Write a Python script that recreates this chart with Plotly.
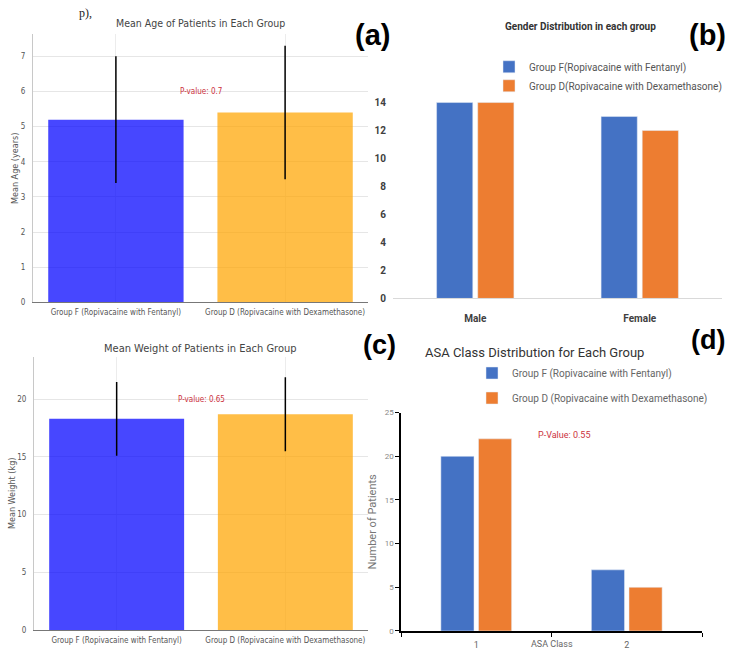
import plotly.graph_objects as go

W, H = 729, 655

# ---- data ----
groups = ["Group F (Ropivacaine with Fentanyl)", "Group D (Ropivacaine with Dexamethasone)"]
age_mean = [5.2, 5.4]
age_sd = [1.8, 1.9]
age_p = 0.7

weight_mean = [18.3, 18.7]
weight_sd = [3.2, 3.2]
weight_p = 0.65

sexes = ["Male", "Female"]
gender_f = [14, 13]
gender_d = [14, 12]
gender_names = ["Group F(Ropivacaine with Fentanyl)", "Group D(Ropivacaine with Dexamethasone)"]

asa_classes = ["1", "2"]
asa_f = [20, 7]
asa_d = [22, 5]
asa_names = ["Group F (Ropivacaine with Fentanyl)", "Group D (Ropivacaine with Dexamethasone)"]
asa_p = 0.55

# ---- styling ----
MPL_BLUE = "rgba(0,0,255,0.72)"
MPL_ORANGE = "rgba(255,165,0,0.72)"
XL_BLUE = "#4472C4"
XL_ORANGE = "#ED7D31"
MPL_FONT = "DejaVu Sans Condensed, DejaVu Sans"
XL_FONT = "Roboto, Liberation Sans"
PRED = "#cc3340"


def px(x):
    return x / W


def py(y):
    return 1 - y / H


fig = go.Figure()

# (a) mean age
fig.add_trace(go.Bar(
    x=groups, y=age_mean, width=0.8,
    marker=dict(color=[MPL_BLUE, MPL_ORANGE], line=dict(width=0)),
    error_y=dict(type="data", array=age_sd, color="black", thickness=1.5, width=0),
    xaxis="x", yaxis="y", showlegend=False,
))

# (b) gender distribution
fig.add_trace(go.Bar(x=sexes, y=gender_f, name=gender_names[0], marker_color=XL_BLUE,
                     xaxis="x2", yaxis="y2", legend="legend"))
fig.add_trace(go.Bar(x=sexes, y=gender_d, name=gender_names[1], marker_color=XL_ORANGE,
                     xaxis="x2", yaxis="y2", legend="legend"))

# (c) mean weight
fig.add_trace(go.Bar(
    x=groups, y=weight_mean, width=0.8,
    marker=dict(color=[MPL_BLUE, MPL_ORANGE], line=dict(width=0)),
    error_y=dict(type="data", array=weight_sd, color="black", thickness=1.5, width=0),
    xaxis="x3", yaxis="y3", showlegend=False,
))

# (d) ASA class distribution
fig.add_trace(go.Bar(x=asa_classes, y=asa_f, name=asa_names[0], marker_color=XL_BLUE,
                     xaxis="x4", yaxis="y4", legend="legend2", legendgroup="f"))
fig.add_trace(go.Bar(x=asa_classes, y=asa_d, name=asa_names[1], marker_color=XL_ORANGE,
                     xaxis="x4", yaxis="y4", legend="legend2", legendgroup="d"))

mpl_tick = dict(family=MPL_FONT, size=8, color="#555")

fig.update_layout(
    width=W, height=H, margin=dict(l=0, r=0, t=0, b=0),
    paper_bgcolor="white", plot_bgcolor="rgba(0,0,0,0)",
    barmode="group", bargap=0.5, bargroupgap=0.12,
    xaxis=dict(domain=[px(33), px(368)], anchor="y", range=[-0.49, 1.49],
               showgrid=True, gridcolor="#ececec", showline=True, linecolor="#777",
               tickfont=mpl_tick, ticks="", ticklabelstandoff=2),
    yaxis=dict(domain=[py(303), py(30.7)], anchor="x", range=[0, 7.63], dtick=1,
               showgrid=True, gridcolor="#e6e6e6", zeroline=False,
               showline=True, linecolor="#c8c8c8", tickfont=mpl_tick, ticks="",
               ticklabelstandoff=5,
               title=dict(text="Mean Age (years)", font=dict(family=MPL_FONT, size=9, color="#555"),
                          standoff=0)),
    xaxis2=dict(domain=[px(393), px(722)], anchor="y2", range=[-0.5, 1.5],
                showgrid=False, showline=True, linecolor="#d9d9d9", ticks="",
                tickfont=dict(family=XL_FONT, size=10, color="#404040", weight="bold"),
                ticklabelstandoff=11),
    yaxis2=dict(domain=[py(299), py(95.8)], anchor="x2", range=[0, 14.3], dtick=2,
                showgrid=False, zeroline=False, showline=False, ticks="",
                tickfont=dict(family=XL_FONT, size=10, color="#404040", weight="bold"),
                ticklabelstandoff=6),
    xaxis3=dict(domain=[px(34), px(368)], anchor="y3", range=[-0.49, 1.49],
                showgrid=True, gridcolor="#ececec", showline=True, linecolor="#777",
                tickfont=mpl_tick, ticks="", ticklabelstandoff=2),
    yaxis3=dict(domain=[py(635.7), py(358)], anchor="x3", range=[0, 23.7], dtick=5,
                showgrid=True, gridcolor="#e6e6e6", zeroline=False,
                showline=True, linecolor="#c8c8c8", tickfont=mpl_tick, ticks="",
                ticklabelstandoff=5,
                title=dict(text="Mean Weight (kg)", font=dict(family=MPL_FONT, size=9, color="#555"),
                           standoff=0)),
    xaxis4=dict(domain=[px(401), px(702)], anchor="y4", range=[-0.5, 1.5],
                showgrid=False, showline=True, linecolor="black", linewidth=1.5,
                ticks="outside", tickson="boundaries", ticklen=4, tickcolor="black",
                tickfont=dict(family=XL_FONT, size=9, color="#666"), ticklabelstandoff=4),
    yaxis4=dict(domain=[py(636.7), py(415)], anchor="x4", range=[0, 25], dtick=5,
                showgrid=False, zeroline=False, showline=True, linecolor="black", linewidth=1.5,
                ticks="outside", ticklen=4, tickcolor="black",
                tickfont=dict(family=XL_FONT, size=8, color="#888"),
                title=dict(text="Number of Patients", font=dict(family=XL_FONT, size=11, color="#777"),
                           standoff=6)),
    legend=dict(x=px(489), y=py(49), xanchor="left", yanchor="top",
                font=dict(family=XL_FONT, size=10, color="#555"), bgcolor="rgba(0,0,0,0)",
                itemwidth=30, traceorder="normal"),
    legend2=dict(x=px(472), y=py(360), xanchor="left", yanchor="top",
                 font=dict(family=XL_FONT, size=10, color="#666"), bgcolor="rgba(0,0,0,0)",
                 itemwidth=30, traceorder="grouped", tracegroupgap=6),
)

annotations = [
    # subplot titles
    dict(text="Mean Age of Patients in Each Group", x=px(200), y=py(19),
         font=dict(family=MPL_FONT, size=10.5, color="#444")),
    dict(text="<b>Gender Distribution in each group</b>", x=px(580), y=py(23),
         font=dict(family=XL_FONT, size=10, color="#333")),
    dict(text="Mean Weight of Patients in Each Group", x=px(200), y=py(350),
         font=dict(family=MPL_FONT, size=11, color="#444")),
    dict(text="ASA Class Distribution for Each Group", x=px(534), y=py(354),
         font=dict(family=XL_FONT, size=13, color="#333")),
    # panel letters
    dict(text="<b>(a)</b>", x=px(372), y=py(31), font=dict(family="Liberation Sans", size=29, color="black")),
    dict(text="<b>(b)</b>", x=px(707), y=py(31), font=dict(family="Liberation Sans", size=29, color="black")),
    dict(text="<b>(c)</b>", x=px(379), y=py(346), font=dict(family="Liberation Sans", size=27, color="black")),
    dict(text="<b>(d)</b>", x=px(708), y=py(341), font=dict(family="Liberation Sans", size=27, color="black")),
    # axis label placed between the ASA categories
    dict(text="ASA Class", x=px(552), y=py(650), font=dict(family=XL_FONT, size=9, color="#666")),
]
for a in annotations:
    a.update(xref="paper", yref="paper", showarrow=False, xanchor="center", yanchor="middle")

# tail of the caption line running above the figure
annotations.append(dict(text="p),", x=px(77), y=1.0, xref="paper", yref="paper",
                        xanchor="left", yanchor="top", showarrow=False,
                        font=dict(family="Liberation Serif", size=12, color="#222")))

# p-value labels in data coordinates
annotations += [
    dict(text=f"P-value: {age_p}", x=0.5, y=6.0, xref="x", yref="y",
         font=dict(family=MPL_FONT, size=8, color=PRED), showarrow=False),
    dict(text=f"P-value: {weight_p}", x=0.5, y=20.0, xref="x3", yref="y3",
         font=dict(family=MPL_FONT, size=8, color=PRED), showarrow=False),
    dict(text=f"P-Value: {asa_p}", x=0.58, y=22.4, xref="x4", yref="y4",
         font=dict(family=XL_FONT, size=9, color=PRED), showarrow=False),
]
fig.update_layout(annotations=annotations)

fig.write_html("out.html")
